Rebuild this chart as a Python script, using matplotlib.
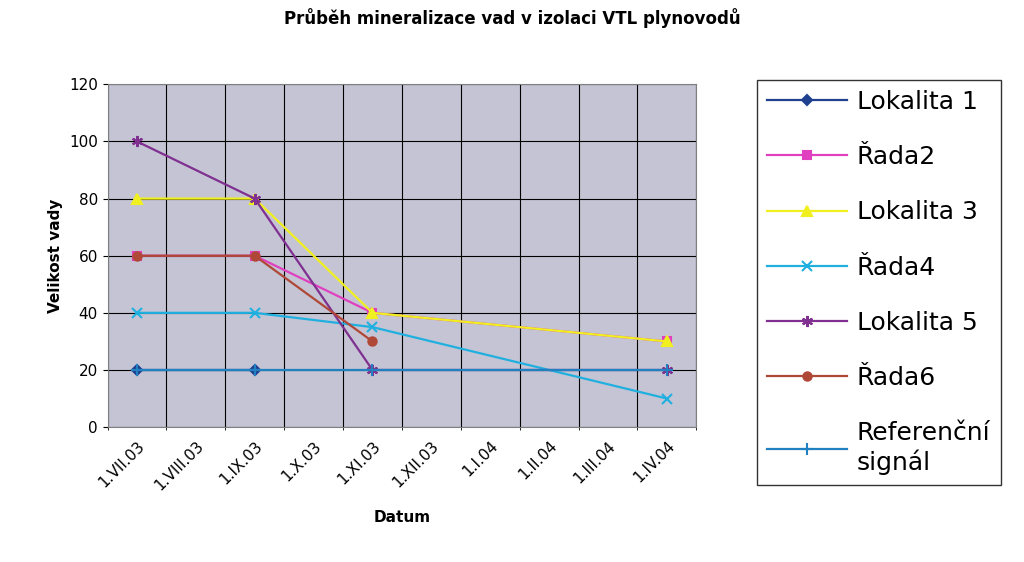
import matplotlib
matplotlib.use("Agg")
import matplotlib.pyplot as plt
import numpy as np

months = ["1.VII.03","1.VIII.03","1.IX.03","1.X.03","1.XI.03","1.XII.03","1.I.04","1.II.04","1.III.04","1.IV.04"]
idx = [0, 2, 4, 9]
lok1 = [20, 20, None, None]
rada2 = [60, 60, 40, 30]
lok3 = [80, 80, 40, 30]
rada4 = [40, 40, 35, 10]
lok5 = [100, 80, 20, 20]
rada6 = [60, 60, 30, None]
ref = [20, 20, 20, 20]

series = [
    ("Lokalita 1", lok1, "#1f3f8f", "D", 5),
    ("Řada2", rada2, "#e040c0", "s", 6),
    ("Lokalita 3", lok3, "#f0f020", "^", 7),
    ("Řada4", rada4, "#20b0e0", "x", 7),
    ("Lokalita 5", lok5, "#803090", (6, 2, 0), 8),
    ("Řada6", rada6, "#b04838", "o", 6),
    ("Referenční\nsignál", ref, "#2080c0", "+", 8),
]

fig = plt.figure(figsize=(10.24, 5.62), dpi=100)
ax = fig.add_axes([0.105, 0.24, 0.575, 0.61])
ax.set_facecolor("#c4c4d4")
handles = []
for name, vals, col, mk, ms in series:
    xs = [idx[i] + 0.5 for i, v in enumerate(vals) if v is not None]
    ys = [v for v in vals if v is not None]
    h, = ax.plot(xs, ys, color=col, marker=mk, ms=ms, lw=1.6, label=name, mew=1.5)
    handles.append(h)

ax.set_xlim(0, 10)
ax.set_ylim(0, 120)
ax.set_yticks(range(0, 121, 20))
ax.tick_params(axis="y", labelsize=11)
ax.set_xticks(np.arange(10) + 0.5)
ax.set_xticklabels(months, rotation=45, ha="right", rotation_mode="anchor", fontsize=11)
ax.set_xticks(np.arange(11), minor=True)
ax.tick_params(axis="x", which="major", length=0, pad=8)
ax.grid(True, which="minor", axis="x", color="black", lw=0.8)
ax.grid(True, which="major", axis="y", color="black", lw=0.8)
ax.set_axisbelow(True)
for s in ax.spines.values():
    s.set_color("#808080")
ax.set_xlabel("Datum", fontweight="bold", fontsize=11, labelpad=12)
ax.set_ylabel("Velikost vady", fontweight="bold", fontsize=11)
fig.suptitle("Průběh mineralizace vad v izolaci VTL plynovodů", fontweight="bold", fontsize=12, y=0.985)

fig.legend(handles=handles, loc="upper left", bbox_to_anchor=(0.727, 0.88), fontsize=18,
           frameon=True, edgecolor="black", fancybox=False, labelspacing=1.25,
           handlelength=3.2, handletextpad=0.4, borderpad=0.4)
fig.savefig("out.png", dpi=100)
